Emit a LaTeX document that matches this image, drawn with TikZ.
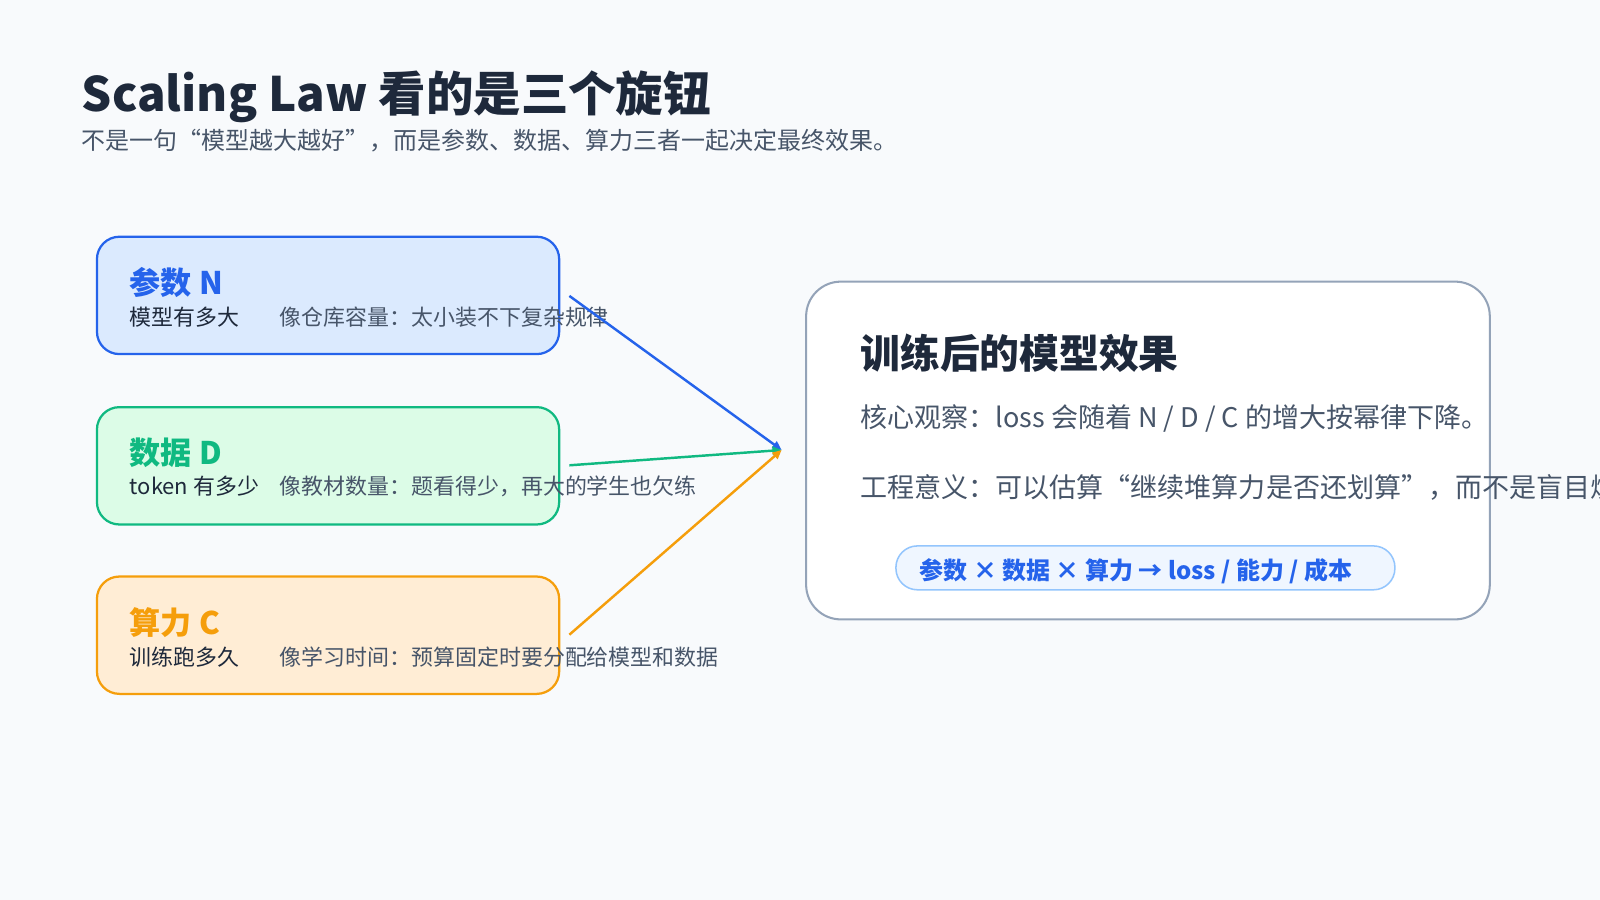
\documentclass[tikz,border=0pt]{standalone}
\usepackage{fontspec}
\setmainfont{Noto Sans CJK SC}
\usetikzlibrary{arrows.meta}
\definecolor{bg}{HTML}{F8FAFC}
\definecolor{cb}{HTML}{2563EB}\definecolor{fb}{HTML}{DBEAFE}
\definecolor{cg}{HTML}{10B981}\definecolor{fg}{HTML}{DCFCE7}
\definecolor{co}{HTML}{F59E0B}\definecolor{fo}{HTML}{FFEDD5}
\definecolor{ink}{HTML}{1E293B}\definecolor{gr}{HTML}{475569}
\definecolor{rb}{HTML}{94A3B8}\definecolor{pf}{HTML}{EFF6FF}\definecolor{pb}{HTML}{93C5FD}
\tikzset{
 card/.style={draw=#1,line width=2.2pt,rounded corners=22pt},
 t/.style={anchor=base west,inner sep=0pt},
 arr/.style={draw=#1,line width=2.4pt,-{Triangle[length=9pt,width=8pt]}},
}
\begin{document}
\begin{tikzpicture}[x=1pt,y=-1pt]
\fill[bg] (0,0) rectangle (1568,882);
\useasboundingbox (0,0) rectangle (1568,882);
\node[t,font=\fontsize{46.5}{50}\selectfont\bfseries,text=ink] (title) at (80,109) {Scaling Law 看的是三个旋钮};
\node[t,font=\fontsize{23.5}{26}\selectfont,text=gr] (sub) at (80,147) {不是一句“模型越大越好”，而是参数、数据、算力三者一起决定最终效果。};
% cards
\path[card=cb,fill=fb] (95,232) rectangle (548,347);
\path[card=cg,fill=fg] (95,399) rectangle (548,514);
\path[card=co,fill=fo] (95,565) rectangle (548,680);
\node[t,font=\fontsize{30.5}{34}\selectfont\bfseries,text=cb] (n1) at (127,289) {参数 N};
\node[t,font=\fontsize{21.5}{24}\selectfont,text=ink] (n1a) at (127,319) {模型有多大};
\node[t,font=\fontsize{21.5}{24}\selectfont,text=gr] (n1b) at (274,319) {像仓库容量：太小装不下复杂规律};
\node[t,font=\fontsize{30.5}{34}\selectfont\bfseries,text=cg] (n2) at (127,455) {数据 D};
\node[t,font=\fontsize{21.5}{24}\selectfont,text=ink] (n2a) at (127,485) {token 有多少};
\node[t,font=\fontsize{21.5}{24}\selectfont,text=gr] (n2b) at (274,485) {像教材数量：题看得少，再大的学生也欠练};
\node[t,font=\fontsize{30.5}{34}\selectfont\bfseries,text=co] (n3) at (127,622) {算力 C};
\node[t,font=\fontsize{21.5}{24}\selectfont,text=ink] (n3a) at (127,652) {训练跑多久};
\node[t,font=\fontsize{21.5}{24}\selectfont,text=gr] (n3b) at (274,652) {像学习时间：预算固定时要分配给模型和数据};
% result box
\path[draw=rb,line width=2pt,fill=white,rounded corners=34pt] (790,276) rectangle (1460,607);
\node[t,font=\fontsize{39}{42}\selectfont\bfseries,text=ink] (rt) at (843,361) {训练后的模型效果};
\node[t,font=\fontsize{26.5}{29}\selectfont,text=gr] (r1) at (843,419) {核心观察：loss 会随着 N / D / C 的增大按幂律下降。};
\node[t,font=\fontsize{26.5}{29}\selectfont,text=gr] (r2) at (843,488) {工程意义：可以估算“继续堆算力是否还划算”，而不是盲目烧钱。};
\path[draw=pb,line width=1.5pt,fill=pf,rounded corners=21pt] (878,535) rectangle (1367,578);
\node[t,font=\fontsize{23.5}{27}\selectfont\bfseries,text=cb] (pill) at (901,568) {参数 × 数据 × 算力 → loss / 能力 / 成本};
% arrows
\coordinate (s1) at (558,290);
\coordinate (s2) at (558,456);
\coordinate (s3) at (558,622);
\coordinate (e) at (766,441);
\draw[arr=cb] (s1) -- (e);
\draw[arr=cg] (s2) -- (e);
\draw[arr=co] (s3) -- (e);
\end{tikzpicture}
\end{document}
